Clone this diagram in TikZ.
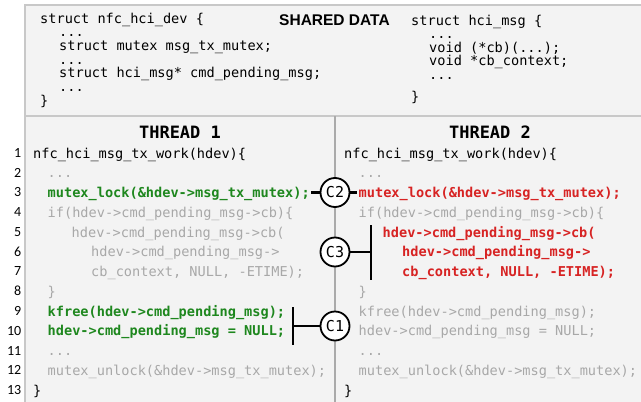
\documentclass[tikz,border=0pt]{standalone}
\usepackage{fontspec}
\setmonofont{DejaVu Sans Mono}
\setsansfont{Liberation Sans}
\newfontfamily\numfont{Carlito}
\newcommand\codefont{\ttfamily\fontsize{13.6}{15}\selectfont}
\newcommand\ellip{...}
\definecolor{panel}{RGB}{243,243,243}
\definecolor{rule}{RGB}{200,200,200}
\definecolor{divider}{RGB}{170,170,170}
\definecolor{faded}{RGB}{168,168,168}
\definecolor{okgreen}{RGB}{30,135,30}
\definecolor{badred}{RGB}{215,35,35}

\begin{document}
\begin{tikzpicture}[x=1pt,y=-1pt,
    code/.style={anchor=west,inner xsep=1.5pt,inner ysep=0pt,text height=10pt,text depth=0pt,font=\codefont},
    blk/.style={},
    gry/.style={text=faded},
    hlgrn/.style={text=okgreen,font=\codefont\bfseries},
    hlred/.style={text=badred,font=\codefont\bfseries},
    head/.style={font=\ttfamily\bfseries\fontsize{17}{19}\selectfont},
    circ/.style={circle,draw,line width=1.8pt,fill=white,minimum size=29pt,inner sep=0pt,font=\ttfamily\fontsize{15}{17}\selectfont},
    conn/.style={line width=2.2pt}]
  \useasboundingbox (0,0) rectangle (641,402);
  \fill[white] (0,0) rectangle (641,402);
  \fill[panel] (25,5) rectangle (641,402);
  \draw[rule,line width=2pt] (641,5) -- (25,5) -- (25,402);
  \draw[rule,line width=2pt] (25,116) -- (641,116);
  \draw[divider,line width=1.8pt] (335,116) -- (335,402);

  % shared data
  \node[font=\sffamily\bfseries\fontsize{15.5}{17}\selectfont] (shared) at (334.5,20.5) {SHARED DATA};
  \foreach[count=\i,evaluate={18+(\i-1)*13.7} as \y] \dx/\txt in {0/{struct nfc\_hci\_dev \{},19/\ellip,19/{struct mutex msg\_tx\_mutex;},19/\ellip,19/{struct hci\_msg* cmd\_pending\_msg;},19/\ellip,0/\}} {
    \node[code] (dev\i) at (38.5+\dx,\y) {\txt};
  }
  \foreach[count=\i,evaluate={20+(\i-1)*13.5} as \y] \dx/\txt in {0/{struct hci\_msg \{},18/\ellip,18/{void (*cb)(\ellip);},18/{void *cb\_context;},18/\ellip} {
    \node[code] (msg\i) at (409.5+\dx,\y) {\txt};
  }
  \node[code] (msg6) at (409.5,96.5) {\}};

  % threads
  \node[head] (t1) at (180,132) {THREAD 1};
  \node[head] (t2) at (490,132) {THREAD 2};
  \foreach[evaluate={153+(\i-1)*19.75} as \y] \i in {1,...,13} {
    \node[anchor=east,inner sep=0pt,font=\numfont\fontsize{14}{16}\selectfont] (n\i) at (21.5,\y) {\i};
  }
  \foreach[count=\i,evaluate={153+(\i-1)*19.75} as \y] \dx/\sty/\txt in {
      0/blk/{nfc\_hci\_msg\_tx\_work(hdev)\{},
      14.5/gry/\ellip,
      14.5/hlgrn/{mutex\_lock(\&hdev->msg\_tx\_mutex);},
      14.5/gry/{if(hdev->cmd\_pending\_msg->cb)\{},
      38.5/gry/{hdev->cmd\_pending\_msg->cb(},
      58/gry/{hdev->cmd\_pending\_msg->},
      58/gry/{cb\_context, NULL, -ETIME);},
      14.5/gry/\},
      14.5/hlgrn/{kfree(hdev->cmd\_pending\_msg);},
      14.5/hlgrn/{hdev->cmd\_pending\_msg = NULL;},
      14.5/gry/\ellip,
      14.5/gry/{mutex\_unlock(\&hdev->msg\_tx\_mutex);},
      0/blk/\}} {
    \node[code,\sty] (a\i) at (31.5+\dx,\y) {\txt};
  }
  \foreach[count=\i,evaluate={153+(\i-1)*19.75} as \y] \dx/\sty/\txt in {
      0/blk/{nfc\_hci\_msg\_tx\_work(hdev)\{},
      14.5/gry/\ellip,
      14.5/hlred/{mutex\_lock(\&hdev->msg\_tx\_mutex);},
      14.5/gry/{if(hdev->cmd\_pending\_msg->cb)\{},
      38.5/hlred/{hdev->cmd\_pending\_msg->cb(},
      58/hlred/{hdev->cmd\_pending\_msg->},
      58/hlred/{cb\_context, NULL, -ETIME);},
      14.5/gry/\},
      14.5/gry/{kfree(hdev->cmd\_pending\_msg);},
      14.5/gry/{hdev->cmd\_pending\_msg = NULL;},
      14.5/gry/\ellip,
      14.5/gry/{mutex\_unlock(\&hdev->msg\_tx\_mutex);},
      0/blk/\}} {
    \node[code,\sty] (b\i) at (342.5+\dx,\y) {\txt};
  }

  % conflicts
  \coordinate (c3t) at (371,225);
  \coordinate (c3b) at (371,280);
  \coordinate (c1t) at (293,307);
  \coordinate (c1b) at (293,345);
  \node[circ] (c2) at (335,192.5) {C2};
  \node[circ] (c3) at (335,252) {C3};
  \node[circ] (c1) at (335,326) {C1};
  \draw[conn] (a3) -- (c2) -- (b3);
  \draw[conn] (c3t) -- (c3b);
  \draw[conn] (c3) -- (c3t |- c3);
  \draw[conn] (c1t) -- (c1b);
  \draw[conn] (c1) -- (c1t |- c1);
\end{tikzpicture}
\end{document}
